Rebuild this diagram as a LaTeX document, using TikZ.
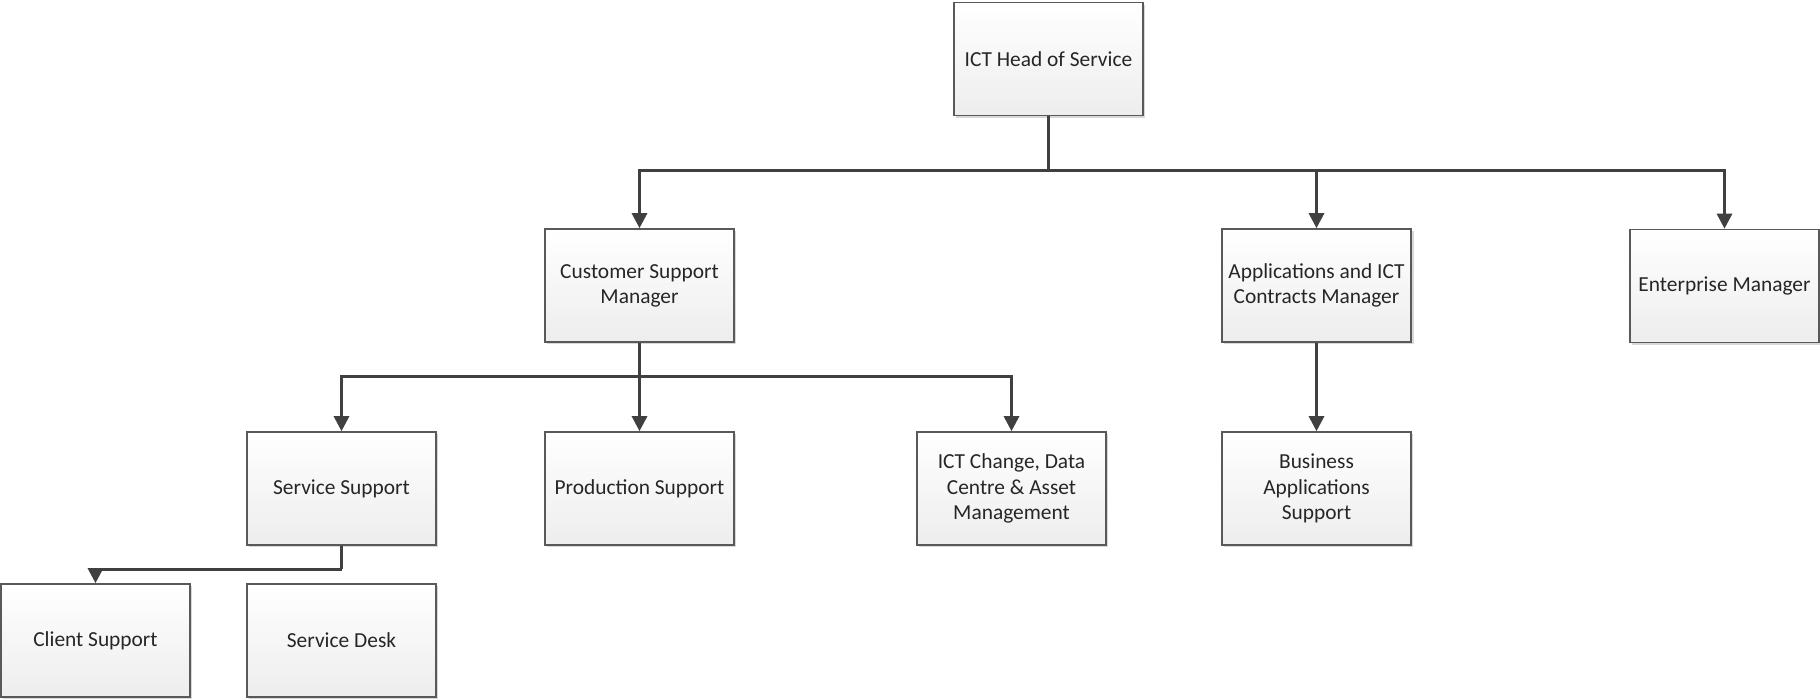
\documentclass[tikz,border=0pt]{standalone}
\usepackage{fontspec}
\setmainfont{Carlito}
\usepackage{tikz}
\usetikzlibrary{arrows.meta,shadows}

\begin{document}
\begin{tikzpicture}[x=0.5pt,y=-0.5pt,>={Triangle[width=7.5pt,length=7.5pt]}]
\tikzset{
post/.style={draw=black!65,line width=0.8pt,top color=white,bottom color=black!7,
  minimum width=94.5pt,minimum height=56.5pt,align=center,text=black!85,
  font=\fontsize{10.7}{12.6}\selectfont,
  drop shadow={shadow xshift=1.2pt,shadow yshift=-1.2pt,fill=black!30}},
link/.style={color=black!75,line width=1.5pt}
}
\useasboundingbox (0,0) rectangle (1820,700);
\node[post] (head) at (1048.5,59) {ICT Head of Service};
\node[post] (csm) at (639.5,285.5) {Customer Support\\Manager};
\node[post] (apps) at (1316.5,285.5) {Applications and ICT\\Contracts Manager};
\node[post] (ent) at (1724.5,286) {Enterprise Manager};
\node[post] (ssup) at (341.5,488.5) {Service Support};
\node[post] (prod) at (639.5,488.5) {Production Support};
\node[post] (ict) at (1011.5,488.5) {ICT Change, Data\\Centre \& Asset\\Management};
\node[post] (bus) at (1316.5,488.5) {Business\\Applications\\Support};
\node[post] (client) at (95.5,640.5) {Client Support};
\node[post] (desk) at (341.5,640.5) {Service Desk};

\coordinate (hbus) at (1048.5,171);
\coordinate (cbus) at (639.5,376);
\coordinate (sbus) at (341.5,569);

\draw[link] (head.south) -- (hbus);
\draw[link,->] (hbus) -| (csm.north);
\draw[link,->] (hbus) -| (apps.north);
\draw[link,->] (hbus) -| (ent.north);
\draw[link,->] (csm.south) -- (prod.north);
\draw[link,->] (cbus) -| (ssup.north);
\draw[link,->] (cbus) -| (ict.north);
\draw[link,->] (apps.south) -- (bus.north);
\draw[link] (ssup.south) -- (sbus);
\draw[link,->] (sbus) -| (client.north);
\end{tikzpicture}
\end{document}
